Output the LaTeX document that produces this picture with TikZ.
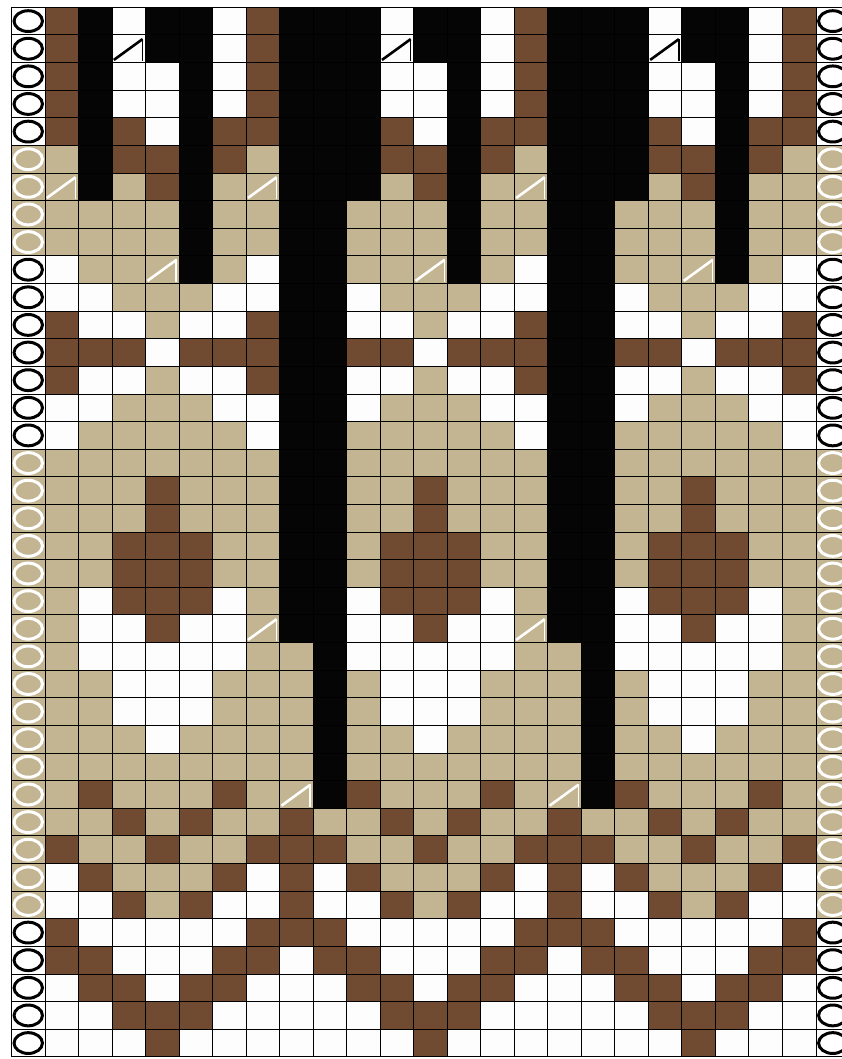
\documentclass[tikz,border=0pt]{standalone}
\definecolor{cB}{HTML}{704B32}
\definecolor{cT}{HTML}{C3B591}
\definecolor{cK}{HTML}{050505}
\definecolor{cW}{HTML}{FDFDFD}
\begin{document}
\begin{tikzpicture}[x=1pt,y=-1pt,
  gridline/.style={line width=0.9pt,draw=black},
  ovalblack/.style={draw=black,line width=3pt,fill=white},
  ovalbeige/.style={draw=white,line width=3pt,fill=cT},
  symdiag/.style={line width=2.6pt},
  symvert/.style={line width=1.4pt}]
\def\cw{33.52}\def\rh{27.62}\def\xo{45}\def\yo{7.3}
\def\blackrows{1,2,3,4,5,10,11,12,13,14,15,16,34,35,36,37,38}
\def\beigerows{6,7,8,9,17,18,19,20,21,22,23,24,25,26,27,28,29,30,31,32,33}
\useasboundingbox (0,0) rectangle (842,1059);
\fill[white] (0,0) rectangle (842,1059);
\begin{scope}
\clip (0,0) rectangle (842,1059);
\foreach \row [count=\r] in {
{B,K,W,K,K,W,B,K,K,K,W,K,K,W,B,K,K,K,W,K,K,W,B},
{B,K,W,K,K,W,B,K,K,K,W,K,K,W,B,K,K,K,W,K,K,W,B},
{B,K,W,W,K,W,B,K,K,K,W,W,K,W,B,K,K,K,W,W,K,W,B},
{B,K,W,W,K,W,B,K,K,K,W,W,K,W,B,K,K,K,W,W,K,W,B},
{B,K,B,W,K,B,B,K,K,K,B,W,K,B,B,K,K,K,B,W,K,B,B},
{T,K,B,B,K,B,T,K,K,K,B,B,K,B,T,K,K,K,B,B,K,B,T},
{T,K,T,B,K,T,T,K,K,K,T,B,K,T,T,K,K,K,T,B,K,T,T},
{T,T,T,T,K,T,T,K,K,T,T,T,K,T,T,K,K,T,T,T,K,T,T},
{T,T,T,T,K,T,T,K,K,T,T,T,K,T,T,K,K,T,T,T,K,T,T},
{W,T,T,T,K,T,W,K,K,T,T,T,K,T,W,K,K,T,T,T,K,T,W},
{W,W,T,T,T,W,W,K,K,W,T,T,T,W,W,K,K,W,T,T,T,W,W},
{B,W,W,T,W,W,B,K,K,W,W,T,W,W,B,K,K,W,W,T,W,W,B},
{B,B,B,W,B,B,B,K,K,B,B,W,B,B,B,K,K,B,B,W,B,B,B},
{B,W,W,T,W,W,B,K,K,W,W,T,W,W,B,K,K,W,W,T,W,W,B},
{W,W,T,T,T,W,W,K,K,W,T,T,T,W,W,K,K,W,T,T,T,W,W},
{W,T,T,T,T,T,W,K,K,T,T,T,T,T,W,K,K,T,T,T,T,T,W},
{T,T,T,T,T,T,T,K,K,T,T,T,T,T,T,K,K,T,T,T,T,T,T},
{T,T,T,B,T,T,T,K,K,T,T,B,T,T,T,K,K,T,T,B,T,T,T},
{T,T,T,B,T,T,T,K,K,T,T,B,T,T,T,K,K,T,T,B,T,T,T},
{T,T,B,B,B,T,T,K,K,T,B,B,B,T,T,K,K,T,B,B,B,T,T},
{T,T,B,B,B,T,T,K,K,T,B,B,B,T,T,K,K,T,B,B,B,T,T},
{T,W,B,B,B,W,T,K,K,W,B,B,B,W,T,K,K,W,B,B,B,W,T},
{T,W,W,B,W,W,T,K,K,W,W,B,W,W,T,K,K,W,W,B,W,W,T},
{T,W,W,W,W,W,T,T,K,W,W,W,W,W,T,T,K,W,W,W,W,W,T},
{T,T,W,W,W,T,T,T,K,T,W,W,W,T,T,T,K,T,W,W,W,T,T},
{T,T,W,W,W,T,T,T,K,T,W,W,W,T,T,T,K,T,W,W,W,T,T},
{T,T,T,W,T,T,T,T,K,T,T,W,T,T,T,T,K,T,T,W,T,T,T},
{T,T,T,T,T,T,T,T,K,T,T,T,T,T,T,T,K,T,T,T,T,T,T},
{T,B,T,T,T,B,T,T,K,B,T,T,T,B,T,T,K,B,T,T,T,B,T},
{T,T,B,T,B,T,T,B,T,T,B,T,B,T,T,B,T,T,B,T,B,T,T},
{B,T,T,B,T,T,B,B,B,T,T,B,T,T,B,B,B,T,T,B,T,T,B},
{W,B,T,T,T,B,W,B,W,B,T,T,T,B,W,B,W,B,T,T,T,B,W},
{W,W,B,T,B,W,W,B,W,W,B,T,B,W,W,B,W,W,B,T,B,W,W},
{B,W,W,W,W,W,B,B,B,W,W,W,W,W,B,B,B,W,W,W,W,W,B},
{B,B,W,W,W,B,B,W,B,B,W,W,W,B,B,W,B,B,W,W,W,B,B},
{W,B,B,W,B,B,W,W,W,B,B,W,B,B,W,W,W,B,B,W,B,B,W},
{W,W,B,B,B,W,W,W,W,W,B,B,B,W,W,W,W,W,B,B,B,W,W},
{W,W,W,B,W,W,W,W,W,W,W,B,W,W,W,W,W,W,W,B,W,W,W}}{
  \foreach \c [count=\k] in \row {
    \fill[fill=c\c] ({\xo+(\k-1)*\cw},{\yo+(\r-1)*\rh}) rectangle ++(\cw,\rh);
  }
}
% oval column backgrounds
\foreach \r in \beigerows{
  \foreach \xc in {28.24,832.76}{
    \fill[cT] ({\xc-16.76},{\yo+(\r-1)*\rh}) rectangle ++(\cw,\rh);
  }
}
% grid
\foreach \i in {0,...,38}
  \draw[gridline] (11.48,{\yo+\i*\rh}) -- (850,{\yo+\i*\rh});
\foreach \j in {0,...,25}
  \draw[gridline] ({11.48+\j*\cw},\yo) -- ({11.48+\j*\cw},{\yo+38*\rh});
% ovals
\foreach \r in \blackrows{
  \foreach \xc in {28.24,832.76}{
    \draw[ovalblack] (\xc,{\yo+(\r-0.5)*\rh}) ellipse [x radius=14.2, y radius=10.4];
  }
}
\foreach \r in \beigerows{
  \foreach \xc in {28.24,832.76}{
    \draw[ovalbeige] (\xc,{\yo+(\r-0.5)*\rh}) ellipse [x radius=14.2, y radius=10.4];
  }
}
% decrease symbols
\foreach \k/\r/\mc in {3/2/black,11/2/black,19/2/black,1/7/white,7/7/white,15/7/white,4/10/white,12/10/white,20/10/white,7/23/white,15/23/white,8/29/white,16/29/white}{
  \pgfmathsetmacro\xa{\xo+(\k-1)*\cw}
  \pgfmathsetmacro\ya{\yo+(\r-1)*\rh}
  \draw[symdiag,draw=\mc] (\xa+1.8,\ya+25) -- (\xa+30.5,\ya+4.2);
  \draw[symvert,draw=\mc] (\xa+30.5,\ya+3.6) -- (\xa+30.5,\ya+26.2);
}
\end{scope}
\end{tikzpicture}
\end{document}
